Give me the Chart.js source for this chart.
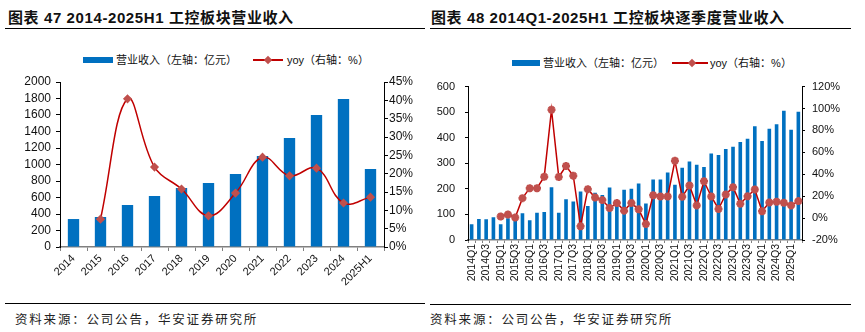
<!DOCTYPE html>
<html>
<head>
<meta charset="utf-8">
<script src="https://cdn.jsdelivr.net/npm/chart.js@4.4.1/dist/chart.umd.min.js"></script>
<style>
  body { margin: 0; background: #fff; width: 865px; height: 332px; position: relative; overflow: hidden; font-family: "Liberation Sans", "Noto Sans CJK SC", sans-serif; }
  .abs { position: absolute; }
  .title { font-size: 15px; font-weight: bold; color: #111; white-space: nowrap; letter-spacing: 0.6px; }
  .rule { height: 1px; background: #000; }
  .foot { font-family: "Noto Sans CJK SC", sans-serif; font-size: 12.5px; color: #222; letter-spacing: 1.8px; white-space: nowrap; }
  .leg { font-family: "Liberation Sans", "Noto Sans CJK SC", sans-serif; font-size: 11px; color: #111; white-space: nowrap; line-height: 14px; }
  .box { background: #0070C0; height: 6px; }
  .lline { height: 2px; background: #C00000; }
  .mark { width: 6px; height: 6px; background: #C0504D; transform: rotate(45deg); }
</style>
</head>
<body>
<!-- left panel -->
<div class="abs title" style="left:8px; top:6px;">图表 47 2014-2025H1 工控板块营业收入</div>
<div class="abs rule" style="left:5px; top:28px; width:420px;"></div>
<div class="abs box" style="left:83px; top:57px; width:30px;"></div>
<div class="abs leg" style="left:116px; top:53px;">营业收入（左轴：亿元）</div>
<div class="abs lline" style="left:253px; top:59px; width:30px;"></div>
<div class="abs mark" style="left:265px; top:57px;"></div>
<div class="abs leg" style="left:287px; top:53px;">yoy（右轴：%）</div>
<div class="abs" style="left:0; top:68px; width:430px; height:232px;"><canvas id="yearChart" width="430" height="232"></canvas></div>
<div class="abs rule" style="left:5px; top:303px; width:420px;"></div>
<div class="abs foot" style="left:15px; top:309px;">资料来源：公司公告，华安证券研究所</div>

<!-- right panel -->
<div class="abs title" style="left:431px; top:6px;">图表 48 2014Q1-2025H1 工控板块逐季度营业收入</div>
<div class="abs rule" style="left:430px; top:28px; width:421px;"></div>
<div class="abs box" style="left:512px; top:60px; width:28px;"></div>
<div class="abs leg" style="left:543px; top:56px;">营业收入（左轴：亿元）</div>
<div class="abs lline" style="left:672px; top:62px; width:36px;"></div>
<div class="abs mark" style="left:689px; top:60px;"></div>
<div class="abs leg" style="left:710px; top:56px;">yoy（右轴：%）</div>
<div class="abs" style="left:430px; top:70px; width:435px; height:232px;"><canvas id="quarterChart" width="435" height="232"></canvas></div>
<div class="abs rule" style="left:430px; top:304px; width:421px;"></div>
<div class="abs foot" style="left:430px; top:309px;">资料来源：公司公告，华安证券研究所</div>

<script>
// 年度数据
const years = ['2014', '2015', '2016', '2017', '2018', '2019', '2020', '2021', '2022', '2023', '2024', '2025H1'];
const yearRevenue = [339, 364, 509, 618, 715, 776, 885, 1103, 1321, 1600, 1794, 945];
const yearYoy = [null, 7.6, 40.4, 21.8, 15.8, 8.5, 14.7, 24.5, 19.4, 21.5, 12.0, 13.6];

// 季度数据 2014Q1 - 2025Q2
const quarters = [];
for (let y = 2014; y <= 2025; y++) {
    for (let q = 1; q <= 4; q++) {
        if (y === 2025 && q > 2) break;
        quarters.push(y + 'Q' + q);
    }
}
const quarterRevenue = [62, 82, 81, 89, 62, 85, 81, 105, 77, 107, 110, 206, 107, 159, 151, 190,
    133, 185, 176, 205, 151, 197, 200, 221, 143, 237, 237, 264, 216, 283, 307,
    294, 286, 338, 332, 356, 365, 383, 396, 445, 387, 435, 453, 506, 431, 502];
const quarterYoy = [null, null, null, null, 1.4, 3.2, 0.5, 18.2, 27.3, 27.3, 37.8, 98.9, 37.5, 47.5, 38.7, -7.4,
    26.4, 18.8, 16.4, 9.2, 13.7, 6.8, 13.7, 8.0, -5.5, 20.9, 19.7, 19.7, 52.3, 19.4, 29.7,
    11.6, 33.6, 19.7, 8.3, 21.5, 28.2, 13.1, 20.0, 26.1, 6.2, 14.3, 14.9, 14.0, 11.6, 15.5];

const tickFont = { family: 'Liberation Sans', size: 12 };
const plain = function (v) { return String(v); };
const pct = function (v) { return v + '%'; };

new Chart(document.getElementById('yearChart'), {
    type: 'bar',
    data: {
        labels: years,
        datasets: [
            {
                type: 'line',
                label: 'yoy（右轴：%）',
                data: yearYoy,
                yAxisID: 'y1',
                borderColor: '#C00000',
                borderWidth: 1.5,
                tension: 0.4,
                pointStyle: 'rectRot',
                pointRadius: 3.5,
                pointBackgroundColor: '#C0504D',
                pointBorderColor: '#C0504D',
                order: 0,
            },
            {
                label: '营业收入（左轴：亿元）',
                data: yearRevenue,
                yAxisID: 'y',
                backgroundColor: '#0070C0',
                barPercentage: 0.42,
                categoryPercentage: 1,
                order: 1,
            },
        ],
    },
    options: {
        responsive: false,
        animation: false,
        devicePixelRatio: 1,
        layout: { padding: { top: 14, left: 0, right: 0, bottom: 0 } },
        plugins: {
            legend: { display: false },
            tooltip: { enabled: false },
        },
        scales: {
            x: {
                afterFit: function (scale) { scale.height = 53; },
                grid: { drawOnChartArea: false, tickLength: 4, color: '#808080' },
                border: { color: '#808080', width: 1.5 },
                ticks: {
                    color: '#111',
                    font: { family: 'Liberation Sans', size: 11 },
                    minRotation: 45,
                    maxRotation: 45,
                    padding: 1,
                },
            },
            y: {
                position: 'left',
                min: 0,
                max: 2000,
                afterFit: function (scale) { scale.width = 60; },
                grid: { drawOnChartArea: false, tickLength: 4, color: '#000' },
                border: { color: '#000' },
                ticks: { stepSize: 200, autoSkip: false, color: '#111', font: tickFont, padding: 5, callback: plain },
            },
            y1: {
                position: 'right',
                min: 0,
                max: 45,
                afterFit: function (scale) { scale.width = 46; },
                grid: { drawOnChartArea: false, tickLength: 4, color: '#000' },
                border: { color: '#000' },
                ticks: { stepSize: 5, autoSkip: false, color: '#111', font: tickFont, padding: 1, callback: pct },
            },
        },
    },
});

new Chart(document.getElementById('quarterChart'), {
    type: 'bar',
    data: {
        labels: quarters,
        datasets: [
            {
                type: 'line',
                label: 'yoy（右轴：%）',
                data: quarterYoy,
                yAxisID: 'y1',
                borderColor: '#C00000',
                borderWidth: 1.5,
                tension: 0,
                pointStyle: 'star',
                pointRadius: 4,
                pointBorderWidth: 2.5,
                pointBackgroundColor: '#C0504D',
                pointBorderColor: '#C0504D',
                order: 0,
            },
            {
                label: '营业收入（左轴：亿元）',
                data: quarterRevenue,
                yAxisID: 'y',
                backgroundColor: '#0070C0',
                barPercentage: 0.5,
                categoryPercentage: 1,
                order: 1,
            },
        ],
    },
    options: {
        responsive: false,
        animation: false,
        devicePixelRatio: 1,
        layout: { padding: { top: 15, left: 0, right: 0, bottom: 0 } },
        plugins: {
            legend: { display: false },
            tooltip: { enabled: false },
        },
        scales: {
            x: {
                afterFit: function (scale) { scale.height = 62; },
                grid: { drawOnChartArea: false, tickLength: 3, color: '#808080' },
                border: { color: '#808080', width: 1.5 },
                ticks: {
                    color: '#111',
                    font: { family: 'Liberation Sans', size: 10.5 },
                    minRotation: 90,
                    maxRotation: 90,
                    autoSkip: false,
                    padding: 1,
                    callback: function (val, i) {
                        return i % 2 === 0 ? this.getLabelForValue(val) : '';
                    },
                },
            },
            y: {
                position: 'left',
                min: 0,
                max: 600,
                afterFit: function (scale) { scale.width = 38; },
                grid: { drawOnChartArea: false, tickLength: 3, color: '#000' },
                border: { color: '#000' },
                ticks: { stepSize: 100, autoSkip: false, color: '#111', font: { family: 'Liberation Sans', size: 11 }, padding: 10, callback: plain },
            },
            y1: {
                position: 'right',
                min: -20,
                max: 120,
                afterFit: function (scale) { scale.width = 63; },
                grid: { drawOnChartArea: false, tickLength: 3, color: '#000' },
                border: { color: '#000' },
                ticks: { stepSize: 20, autoSkip: false, color: '#111', font: { family: 'Liberation Sans', size: 11 }, padding: 7, callback: pct },
            },
        },
    },
});
</script>
</body>
</html>
